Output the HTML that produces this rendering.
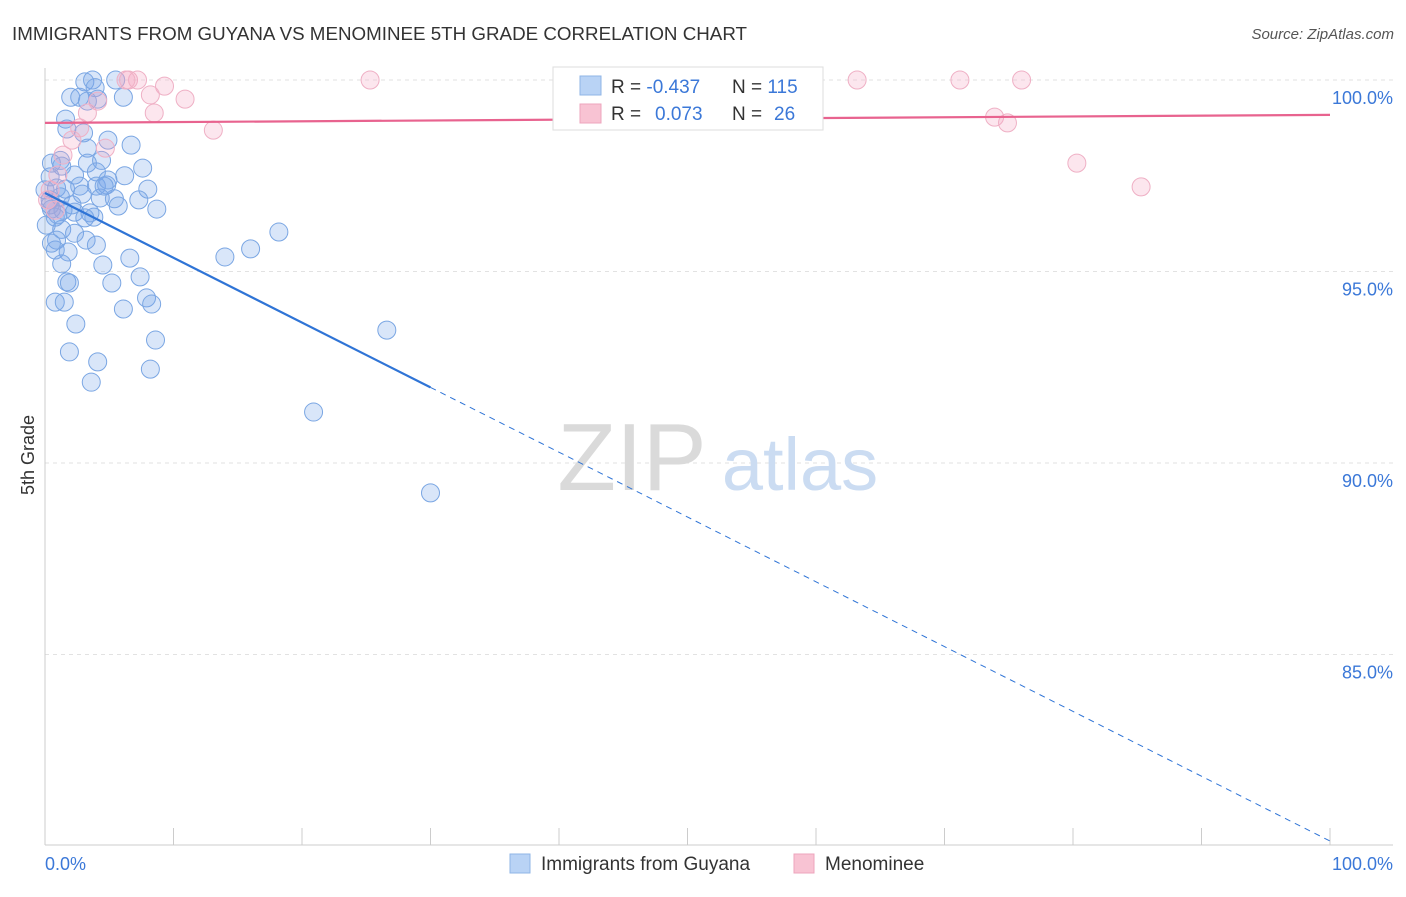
<!DOCTYPE html>
<html><head><meta charset="utf-8"><style>
body{margin:0;background:#fff;font-family:"Liberation Sans",sans-serif;}
svg text{font-family:"Liberation Sans",sans-serif;}
</style></head><body>
<svg width="1406" height="892">
<text x="12" y="40" font-size="18" fill="#333" textLength="735" lengthAdjust="spacingAndGlyphs">IMMIGRANTS FROM GUYANA VS MENOMINEE 5TH GRADE CORRELATION CHART</text>
<text x="1394" y="39" font-size="15" fill="#555" font-style="italic" text-anchor="end">Source: ZipAtlas.com</text>
<g id="grid"></g>
<g>
<text x="632" y="490" font-size="96" font-family="Liberation Serif" fill="#dadada" text-anchor="middle">ZIP</text>
<text x="800" y="490" font-size="74" fill="#cbdcf2" text-anchor="middle">atlas</text>
</g>
<text transform="translate(34,455) rotate(-90)" font-size="18" fill="#333" text-anchor="middle">5th Grade</text>
<g id="points"></g>
<g id="lines"></g>
<g>
<rect x="553" y="67" width="270" height="63" fill="#fff" stroke="#ddd"/>
<rect x="580" y="76" width="21" height="19" fill="#b9d3f5" stroke="#8fb4e6"/>
<rect x="580" y="104" width="21" height="19" fill="#f8c3d3" stroke="#eea4bc"/>
<text x="611" y="93" font-size="19" fill="#333">R = <tspan fill="#3b78d8">-0.437</tspan></text>
<text x="732" y="93" font-size="19" fill="#333">N = <tspan fill="#3b78d8">115</tspan></text>
<text x="611" y="120" font-size="19" fill="#333">R = <tspan fill="#3b78d8" x="655">0.073</tspan></text>
<text x="732" y="120" font-size="19" fill="#333">N = <tspan fill="#3b78d8" x="774">26</tspan></text>
</g>
<g>
<rect x="510" y="854" width="20" height="19" fill="#b9d3f5" stroke="#8fb4e6"/>
<text x="541" y="870" font-size="19" fill="#333">Immigrants from Guyana</text>
<rect x="794" y="854" width="20" height="19" fill="#f8c3d3" stroke="#eea4bc"/>
<text x="825" y="870" font-size="19" fill="#333">Menominee</text>
</g>
<text x="45" y="870" font-size="18" fill="#3b78d8">0.0%</text>
<text x="1393" y="870" font-size="18" fill="#3b78d8" text-anchor="end">100.0%</text>
</svg>
<script>
const blueX=[3.1,3.7,5.5,3.9,2.0,2.7,6.1,3.3,4.1,1.6,1.7,3.0,4.9,6.7,1.2,3.3,0.5,1.3,3.3,4.4,7.6,0.4,2.3,4.0,6.2,0.9,1.6,2.7,4.0,4.8,8.0,0.4,1.2,2.9,4.3,5.4,7.3,0.5,1.4,2.3,3.5,5.7,8.7,0.8,3.1,3.8,1.3,2.3,0.9,3.2,4.0,0.8,1.8,6.6,4.5,1.3,7.4,1.7,5.2,0.8,1.5,7.9,8.3,6.1,2.4,8.6,1.9,4.1,8.2,3.6,14.0,16.0,18.2,26.6,20.9,30.0,4.9,4.6,0.4,1.0,2.1,0,0.1,0.5,1.9];
const blueY=[99.95,100,100,99.8,99.55,99.55,99.55,99.45,99.5,98.98,98.72,98.62,98.43,98.3,97.9,98.22,97.83,97.75,97.83,97.9,97.7,97.47,97.52,97.6,97.5,97.18,97.15,97.23,97.23,97.26,97.15,96.87,96.95,97.02,96.92,96.9,96.87,96.63,96.6,96.55,96.53,96.71,96.63,96.42,96.4,96.42,96.1,96.0,95.82,95.82,95.69,95.56,95.51,95.35,95.17,95.2,94.86,94.73,94.7,94.2,94.2,94.31,94.15,94.02,93.63,93.21,92.9,92.64,92.45,92.11,95.38,95.59,96.03,93.47,91.33,89.22,97.39,97.23,96.74,96.48,96.74,97.13,96.21,95.74,94.7];
const pinkX=[6.5,7.2,9.3,8.2,10.9,4.1,8.5,13.1,3.3,2.7,2.1,4.7,1.4,1.0,0.4,25.3,63.2,71.2,76.0,73.9,74.9,80.3,85.3,0.2,0.8,6.3];
const pinkY=[100,100,99.84,99.61,99.5,99.45,99.14,98.69,99.14,98.75,98.43,98.22,98.04,97.52,97.13,100,100,100,100,99.03,98.88,97.83,97.21,96.87,96.6,100];
const yTicks=[100,95,90,85];
const yTickLabels=["100.0%","95.0%","90.0%","85.0%"];
const xTicks=[0,10,20,30,40,50,60,70,80,90,100];
const blueTrend=[97.05,80.13]; const blueSolidEnd=30;
const pinkTrend=[98.88,99.09];
const NS="http://www.w3.org/2000/svg";
const X=v=>45+v*12.85, Y=v=>80+(100-v)*38.3;
function mk(tag,attrs,parent){const e=document.createElementNS(NS,tag);for(const k in attrs)e.setAttribute(k,attrs[k]);parent.appendChild(e);return e;}
const grid=document.getElementById('grid');
yTicks.forEach((t,i)=>{
 const l=mk('line',{x1:45,x2:1393,y1:Y(t),y2:Y(t),stroke:'#e2e2e2','stroke-dasharray':'4,4'},grid);
 
 
 const tx=mk('text',{x:1393,y:Y(t)+24,'font-size':18,fill:'#3b78d8','text-anchor':'end'},grid);
 tx.textContent=yTickLabels[i];
 
 
});
const ax=mk('line',{x1:45,x2:45,y1:68,y2:845,stroke:'#ccc'},grid);


const bx=mk('line',{x1:45,x2:1393,y1:845,y2:845,stroke:'#ccc'},grid);


xTicks.forEach(t=>{const l=mk('line',{x1:X(t),x2:X(t),y1:828,y2:845,stroke:'#ccc'},grid);
 
 });
const pts=document.getElementById('points');
blueX.forEach((v,i)=>{const c=mk('circle',{cx:X(v),cy:Y(blueY[i]),r:9,fill:'rgba(120,165,235,0.28)',stroke:'#7aa6e3','stroke-width':1},pts);
 
 });
pinkX.forEach((v,i)=>{const c=mk('circle',{cx:X(v),cy:Y(pinkY[i]),r:9,fill:'rgba(245,165,195,0.28)',stroke:'#efb0c5','stroke-width':1},pts);
 
 });
const ln=document.getElementById('lines');
const bAt=x=>blueTrend[0]+(blueTrend[1]-blueTrend[0])*x/100;
let a=mk('line',{x1:X(0),y1:Y(bAt(0)),x2:X(blueSolidEnd),y2:Y(bAt(blueSolidEnd)),stroke:'#2f74d6','stroke-width':2.2},ln);


a=mk('line',{x1:X(blueSolidEnd),y1:Y(bAt(blueSolidEnd)),x2:X(100),y2:Y(bAt(100)),stroke:'#2f74d6','stroke-width':1,'stroke-dasharray':'6,5'},ln);


a=mk('line',{x1:X(0),y1:Y(pinkTrend[0]),x2:X(100),y2:Y(pinkTrend[1]),stroke:'#e8638f','stroke-width':2.2},ln);


</script>
</body></html>
